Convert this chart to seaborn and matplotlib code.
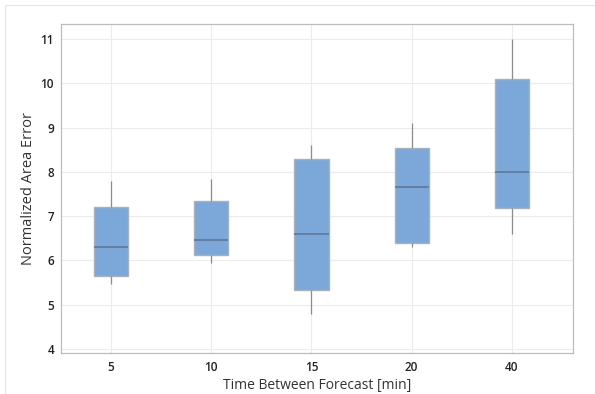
import matplotlib
matplotlib.use("Agg")
import matplotlib.pyplot as plt
import seaborn as sns
import pandas as pd
from matplotlib.patches import Rectangle

categories = ["5", "10", "15", "20", "40"]
whisker_low = [5.47, 5.94, 4.79, 6.30, 6.60]
q1 = [5.65, 6.12, 5.33, 6.39, 7.18]
median = [6.30, 6.46, 6.60, 7.66, 8.00]
q3 = [7.20, 7.34, 8.29, 8.54, 10.10]
whisker_high = [7.80, 7.84, 8.60, 9.10, 11.00]
y_ticks = [4, 5, 6, 7, 8, 9, 10, 11]

rows = []
for i, c in enumerate(categories):
    for v in (whisker_low[i], q1[i], median[i], q3[i], whisker_high[i]):
        rows.append({"cat": c, "val": v})
df = pd.DataFrame(rows)

sns.set_style("white")
plt.rcParams["font.family"] = ["Open Sans", "DejaVu Sans"]

fig = plt.figure(figsize=(5.95, 3.94), dpi=100)
ax = fig.add_axes([61/595, 1 - 353/394, (573-61)/595, (353-24)/394])

sns.boxplot(data=df, x="cat", y="val", order=categories, ax=ax,
            whis=(0, 100), width=0.34, color="#7BA7D9", saturation=1,
            linewidth=0.9, showfliers=False, showcaps=False,
            boxprops=dict(edgecolor="#A9B2BC", linewidth=1.0),
            whiskerprops=dict(color="#8C8C8C", linewidth=0.9),
            medianprops=dict(color="#5B7493", linewidth=1.1))

ax.set_ylim(3.91, 11.34)
ax.set_xlim(-0.5, 4.61)
ax.set_yticks(y_ticks)
ax.set_yticklabels([str(t) for t in y_ticks])
ax.grid(True, color="#ECECEC", linewidth=0.8)
ax.set_axisbelow(True)
for s in ax.spines.values():
    s.set_color("#BDBDBD")
    s.set_linewidth(0.9)
ax.tick_params(axis="y", length=3, color="#BDBDBD", labelsize=8.5, labelcolor="#222222", pad=2)
ax.tick_params(axis="x", length=0, labelsize=8.5, labelcolor="#222222", pad=6)
for lab in ax.get_xticklabels() + ax.get_yticklabels():
    lab.set_fontweight("semibold")
ax.set_xlabel("Time Between Forecast [min]", fontsize=10, color="#333333", labelpad=3)
ax.set_ylabel("Normalized Area Error", fontsize=10.5, color="#333333")
ax.yaxis.set_label_coords(-0.048, 0.5)

fig.patches.append(Rectangle((5/595, 0), 1.0, 1 - 5/394, transform=fig.transFigure,
                             fill=False, edgecolor="#E6E6E6", linewidth=0.8))

fig.savefig("out.png", dpi=100)
